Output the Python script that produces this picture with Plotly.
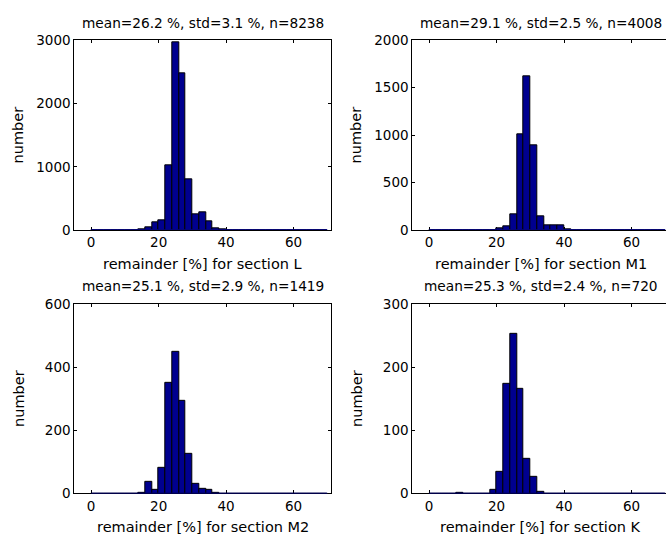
import plotly.graph_objects as go

# ---- data ----
bin_start = 0
bin_width = 2
n_bins = 35

counts_L = [0, 0, 0, 0, 0, 0, 0, 15, 41, 128, 149, 1020, 2970, 2480, 795, 241, 287, 138, 31, 10,
            0, 0, 0, 0, 0, 0, 0, 0, 0, 0, 0, 0, 0, 0, 0]
counts_M1 = [0, 0, 0, 0, 0, 0, 0, 0, 0, 0, 17, 41, 167, 1010, 1621, 894, 140, 48, 48, 51,
             7, 0, 0, 0, 0, 0, 0, 0, 0, 0, 0, 0, 0, 0, 0]
counts_M2 = [0, 0, 0, 0, 0, 0, 0, 2, 37, 12, 81, 351, 449, 294, 124, 29, 15, 11, 2, 0,
             0, 0, 0, 0, 0, 0, 0, 0, 0, 0, 0, 0, 0, 0, 0]
counts_K = [0, 0, 0, 0, 1, 0, 0, 0, 0, 6, 34, 173, 253, 166, 55, 27, 2, 0, 0, 0,
            0, 0, 0, 0, 0, 0, 0, 0, 0, 0, 0, 0, 0, 0, 0]

titles = ["mean=26.2 %, std=3.1 %, n=8238", "mean=29.1 %, std=2.5 %, n=4008",
          "mean=25.1 %, std=2.9 %, n=1419", "mean=25.3 %, std=2.4 %, n=720"]
xlabels = ["remainder [%] for section L", "remainder [%] for section M1",
           "remainder [%] for section M2", "remainder [%] for section K"]
ylabel = "number"
ymax = [3000, 2000, 600, 300]
ytick_step = [1000, 500, 200, 100]
xticks = [0, 20, 40, 60]

all_counts = [counts_L, counts_M1, counts_M2, counts_K]
centers = [bin_start + bin_width * (i + 0.5) for i in range(n_bins)]
edges = [bin_start, bin_start + bin_width * n_bins]

# ---- layout geometry (pixels) ----
W, H = 666, 550
col_px = [(74.3, 330.7), (412.3, 666.0)]
row_px = [(33.3, 228.7), (304.7, 500.0)]
px_per_unit = 3.373
xmin = -5

FONT = "DejaVu Sans"
FS_TICK = 13.5
FS_TITLE = 13.7
FS_LABEL = 14.5
BAR_COLOR = "rgb(0,0,143)"

fig = go.Figure()
annotations = []

for k in range(4):
    r, c = divmod(k, 2)
    ax = "" if k == 0 else str(k + 1)
    x0p, x1p = col_px[c]
    y0p, y1p = row_px[r]
    xmax = xmin + (x1p - x0p) / px_per_unit

    fig.add_trace(go.Bar(
        x=centers, y=all_counts[k], width=bin_width,
        marker=dict(color=BAR_COLOR, line=dict(color="black", width=1)),
        xaxis="x" + ax, yaxis="y" + ax, showlegend=False,
    ))
    fig.add_trace(go.Scatter(
        x=edges, y=[0, 0], mode="lines",
        line=dict(color=BAR_COLOR, width=1.5),
        xaxis="x" + ax, yaxis="y" + ax, showlegend=False, cliponaxis=False,
    ))

    dom_x = [x0p / W, min(x1p / W, 1.0)]
    dom_y = [1 - y1p / H, 1 - y0p / H]
    common = dict(showline=True, linecolor="black", linewidth=1, ticks="inside",
                  ticklen=3, tickcolor="black", showgrid=False, zeroline=False,
                  tickfont=dict(family=FONT, size=FS_TICK, color="black"))
    fig.update_layout({
        "xaxis" + ax: dict(domain=dom_x, range=[xmin, xmax], tickvals=xticks,
                           mirror="allticks", anchor="y" + ax, layer="below traces",
                           **common),
        "yaxis" + ax: dict(domain=dom_y, range=[0, ymax[k]],
                           dtick=ytick_step[k], tick0=0,
                           mirror="allticks" if c == 0 else False,
                           anchor="x" + ax, **common),
    })

    cx = x0p + (col_px[0][1] - col_px[0][0]) / 2
    annotations.append(dict(text=titles[k], xref="paper", yref="paper",
                            x=cx / W, y=1 - (y0p - 18) / H, showarrow=False,
                            xanchor="center", yanchor="middle",
                            font=dict(family=FONT, size=FS_TITLE, color="black")))
    annotations.append(dict(text=xlabels[k], xref="paper", yref="paper",
                            x=cx / W, y=1 - (y1p + 35) / H, showarrow=False,
                            xanchor="center", yanchor="middle",
                            font=dict(family=FONT, size=FS_LABEL, color="black")))
    annotations.append(dict(text=ylabel, xref="paper", yref="paper",
                            x=(x0p - 56) / W, y=1 - (y0p + y1p) / 2 / H,
                            showarrow=False, textangle=-90,
                            xanchor="center", yanchor="middle",
                            font=dict(family=FONT, size=FS_LABEL, color="black")))

fig.update_layout(
    width=W, height=H, margin=dict(l=0, r=0, t=0, b=0),
    paper_bgcolor="white", plot_bgcolor="white",
    bargap=0, annotations=annotations,
    font=dict(family=FONT, size=FS_TICK, color="black"),
)

fig.write_html("out.html",
               config={"displayModeBar": False},
               post_script="document.body.style.margin='0';"
                           "document.body.style.overflow='hidden';")
